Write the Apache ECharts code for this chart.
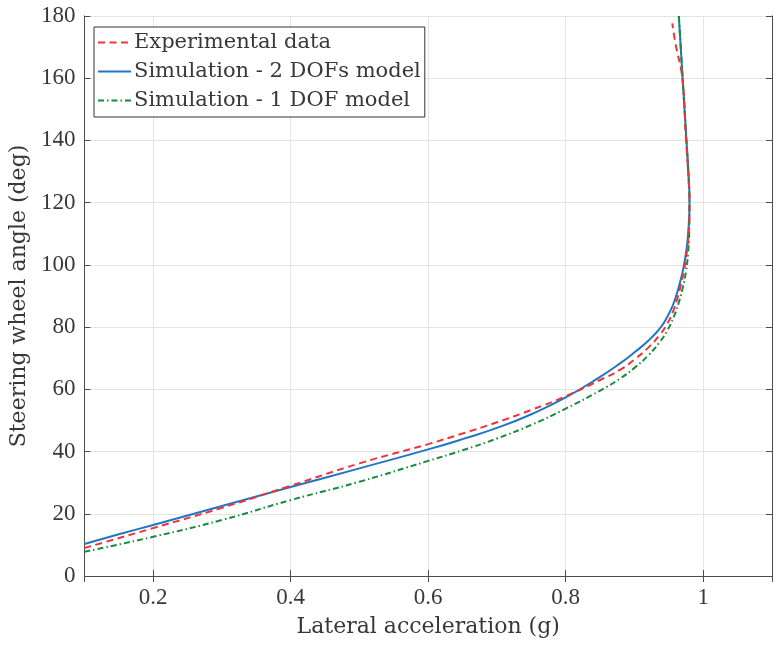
<!DOCTYPE html>
<html>
<head>
<meta charset="utf-8">
<script src="https://cdn.jsdelivr.net/npm/echarts@6/dist/echarts.min.js"></script>
<style>
  html, body { margin: 0; padding: 0; background: #fff; }
  #chart { width: 781px; height: 649px; }
</style>
</head>
<body>
<div id="chart"></div>
<script>
  // Experimental data
  const expAccel = [0.100, 0.200, 0.300, 0.400, 0.500, 0.600, 0.650, 0.700, 0.750, 0.800, 0.850, 0.880, 0.900, 0.920, 0.937, 0.948, 0.956, 0.962, 0.967, 0.972, 0.976, 0.979, 0.980, 0.978, 0.975, 0.9695, 0.9596, 0.955]
  const expAngle = [9.0, 15.4, 21.9, 29.0, 36.2, 42.4, 45.8, 49.4, 53.4, 57.8, 63.0, 66.4, 69.6, 73.4, 77.6, 81.2, 85.0, 89.0, 93.2, 98.2, 104, 111, 120, 130, 140, 160, 171.2, 177.6]

  // Simulation - 2 DOFs model
  const sim2Accel = [0.100, 0.150, 0.200, 0.300, 0.400, 0.500, 0.600, 0.650, 0.700, 0.750, 0.800, 0.850, 0.880, 0.900, 0.920, 0.937, 0.947, 0.955, 0.961, 0.966, 0.971, 0.975, 0.978, 0.980, 0.9785, 0.9756, 0.970, 0.9645]
  const sim2Angle = [10.3, 13.4, 16.4, 22.5, 28.6, 34.6, 40.7, 44.0, 47.6, 52.0, 57.4, 64.0, 68.5, 71.9, 75.6, 79.6, 83.0, 86.6, 90.3, 94.2, 98.8, 104, 110, 120, 130, 140, 160, 180]

  // Simulation - 1 DOF model
  const sim1Accel = [0.100, 0.200, 0.300, 0.400, 0.500, 0.600, 0.650, 0.700, 0.750, 0.800, 0.850, 0.880, 0.900, 0.920, 0.937, 0.948, 0.957, 0.964, 0.970, 0.975, 0.978, 0.9795, 0.980, 0.978, 0.9755, 0.970, 0.9645]
  const sim1Angle = [7.8, 12.6, 18.0, 24.4, 30.3, 37.0, 40.4, 44.2, 48.6, 53.8, 59.6, 63.6, 66.9, 70.9, 75.3, 79.0, 83.2, 87.6, 92.5, 98.0, 104, 110, 120, 130, 140, 160, 180]

  const seriesNames = ['Experimental data', 'Simulation - 2 DOFs model', 'Simulation - 1 DOF model']

  const zip = (xs, ys) => xs.map((x, i) => [x, ys[i]])

  const axisColor = '#4d4d4d'
  const textColor = '#383838'

  const chart = echarts.init(document.getElementById('chart'))
  chart.setOption({
    animation: false,
    backgroundColor: '#ffffff',
    grid: { left: 84, right: 9, top: 16, bottom: 73 },
    legend: {
      orient: 'vertical',
      left: 94,
      top: 27,
      padding: [5, 4, 6, 3],
      itemWidth: 33,
      itemHeight: 14,
      itemGap: 8,
      itemStyle: { opacity: 0 },
      backgroundColor: '#ffffff',
      borderColor: '#333333',
      borderWidth: 1,
      borderRadius: 0,
      textStyle: { fontFamily: 'DejaVu Serif', fontSize: 21, color: textColor, padding: [0, 0, 0, -2] },
      data: seriesNames
    },
    xAxis: [
      {
        type: 'value',
        min: 0.1,
        max: 1.1,
        splitNumber: 5,
        name: 'Lateral acceleration (g)',
        nameLocation: 'middle',
        nameGap: 40,
        nameTextStyle: { fontFamily: 'DejaVu Serif', fontSize: 22, color: textColor },
        axisLine: { lineStyle: { color: axisColor, width: 1 } },
        axisTick: { inside: true, length: 6, lineStyle: { color: axisColor } },
        axisLabel: {
          showMinLabel: false, showMaxLabel: false, margin: 10,
          fontFamily: 'Liberation Serif', fontSize: 23, color: textColor
        },
        splitLine: { show: true, lineStyle: { color: '#e4e4e4', width: 1 } }
      },
      {
        type: 'value',
        position: 'top',
        min: 0.1,
        max: 1.1,
        splitNumber: 5,
        axisLine: { show: true, lineStyle: { color: axisColor, width: 1 } },
        axisTick: { inside: true, length: 6, lineStyle: { color: axisColor } },
        axisLabel: { show: false },
        splitLine: { show: false }
      }
    ],
    yAxis: [
      {
        type: 'value',
        min: 0,
        max: 180,
        interval: 20,
        name: 'Steering wheel angle (deg)',
        nameLocation: 'middle',
        nameGap: 54,
        nameTextStyle: { fontFamily: 'DejaVu Serif', fontSize: 22, color: textColor },
        axisLine: { show: true, lineStyle: { color: axisColor, width: 1 } },
        axisTick: { show: true, inside: true, length: 6, lineStyle: { color: axisColor } },
        axisLabel: { margin: 9, fontFamily: 'Liberation Serif', fontSize: 23, color: textColor },
        splitLine: { show: true, lineStyle: { color: '#e4e4e4', width: 1 } }
      },
      {
        type: 'value',
        position: 'right',
        min: 0,
        max: 180,
        interval: 20,
        axisLine: { show: true, lineStyle: { color: axisColor, width: 1 } },
        axisTick: { show: true, inside: true, length: 6, lineStyle: { color: axisColor } },
        axisLabel: { show: false },
        splitLine: { show: false }
      }
    ],
    series: [
      {
        name: seriesNames[0],
        type: 'line',
        data: zip(expAccel, expAngle),
        symbol: 'none',
        smooth: 0.5,
        z: 3,
        lineStyle: { color: '#f0323a', width: 2, type: [7, 4.5] },
        itemStyle: { color: '#f0323a' }
      },
      {
        name: seriesNames[1],
        type: 'line',
        data: zip(sim2Accel, sim2Angle),
        symbol: 'none',
        smooth: 0.5,
        z: 2,
        lineStyle: { color: '#1f77c4', width: 2, type: 'solid' },
        itemStyle: { color: '#1f77c4' }
      },
      {
        name: seriesNames[2],
        type: 'line',
        data: zip(sim1Accel, sim1Angle),
        symbol: 'none',
        smooth: 0.5,
        z: 2,
        lineStyle: { color: '#178a3c', width: 2, type: [6, 3, 1.5, 3] },
        itemStyle: { color: '#178a3c' }
      }
    ]
  })
</script>
</body>
</html>
